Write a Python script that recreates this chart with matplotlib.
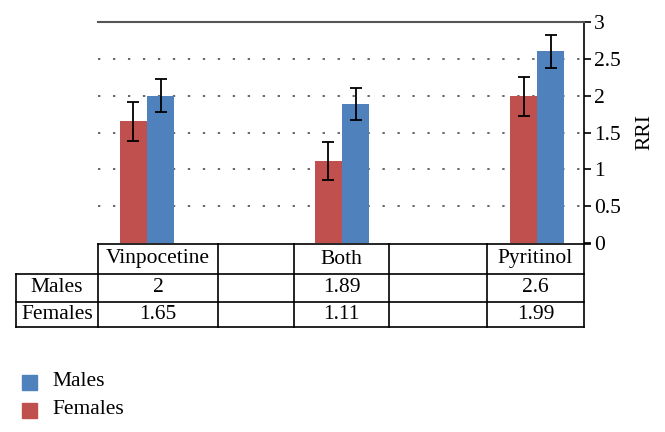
import numpy as np
import matplotlib
matplotlib.use("Agg")
import matplotlib.pyplot as plt
from matplotlib.lines import Line2D
from matplotlib.patches import Rectangle

# data
categories = ["Vinpocetine", "", "Both", "", "Pyritinol"]
males = [2, None, 1.89, None, 2.6]
females = [1.65, None, 1.11, None, 1.99]
males_err = [0.22, None, 0.22, None, 0.22]
females_err = [0.26, None, 0.26, None, 0.27]
male_labels = ["2", "", "1.89", "", "2.6"]
female_labels = ["1.65", "", "1.11", "", "1.99"]
yticks = [0, 0.5, 1, 1.5, 2, 2.5, 3]
ytick_labels = ["0", "0.5", "1", "1.5", "2", "2.5", "3"]

c_male = "#4F81BD"
c_female = "#C0504D"

plt.rcParams['font.family'] = ['Liberation Serif', 'DejaVu Serif']
fs = 15.5

W, H = 665, 432
fig = plt.figure(figsize=(W / 100, H / 100), dpi=100)

# plot area in pixels
x0, x1 = 98, 584
y_top, y_bot = 22, 243
ax = fig.add_axes([x0 / W, 1 - y_bot / H, (x1 - x0) / W, (y_bot - y_top) / H])

idx = [i for i in range(len(categories)) if males[i] is not None]
xm = np.array(idx) + 0.14
xf = np.array(idx) - 0.14
ax.bar(xf, [females[i] for i in idx], width=0.28, color=c_female, zorder=3)
ax.bar(xm, [males[i] for i in idx], width=0.28, color=c_male, zorder=3)
ax.errorbar(xf, [females[i] for i in idx], yerr=[females_err[i] for i in idx],
            fmt="none", ecolor="black", elinewidth=1.3, capsize=4, capthick=1.3, zorder=4)
ax.errorbar(xm, [males[i] for i in idx], yerr=[males_err[i] for i in idx],
            fmt="none", ecolor="black", elinewidth=1.3, capsize=4, capthick=1.3, zorder=4)

ax.set_xlim(-0.503, 4.48)
ax.set_ylim(0, 3)
ax.set_xticks([])
ax.set_yticks(yticks)
ax.set_yticklabels(ytick_labels, fontsize=fs)
ax.yaxis.tick_right()
ax.tick_params(axis="y", direction="out", length=5, width=1.2, pad=2)
# RRI axis title
ax.text((645 - x0) / (x1 - x0), 0.5, "RRI", rotation=90, ha="center", va="center",
        fontsize=fs, transform=ax.transAxes)
for y in yticks[1:-1]:
    ax.axhline(y, color="#666666", linestyle=(0, (1.2, 6.5)), linewidth=1.4, zorder=1)
ax.spines["left"].set_visible(False)
ax.spines["bottom"].set_visible(False)
ax.spines["top"].set_color("#555555")
ax.spines["top"].set_linewidth(1.5)
ax.spines["right"].set_linewidth(1.2)

# data table drawn in pixel coordinates
ov = fig.add_axes([0, 0, 1, 1])
ov.set_xlim(0, W)
ov.set_ylim(H, 0)
ov.axis("off")
col_edges = [98, 218, 294, 389, 487, 584]
row_edges = [244, 274, 302, 327]
hdr_left = 16
lw = 1.2
# horizontal lines
ov.add_line(Line2D([col_edges[0], 590], [row_edges[0]] * 2, color="black", lw=lw))
for y in row_edges[1:]:
    ov.add_line(Line2D([hdr_left, col_edges[-1]], [y, y], color="black", lw=lw))
for x in col_edges:
    ov.add_line(Line2D([x, x], [row_edges[0], row_edges[-1]], color="black", lw=lw))
ov.add_line(Line2D([hdr_left, hdr_left], [row_edges[1], row_edges[-1]], color="black", lw=lw))

rows = [categories, male_labels, female_labels]
for r, vals in enumerate(rows):
    yc = (row_edges[r] + row_edges[r + 1]) / 2
    for c, v in enumerate(vals):
        xc = (col_edges[c] + col_edges[c + 1]) / 2
        ov.text(xc, yc, v, ha="center", va="center", fontsize=fs)
ov.text((hdr_left + col_edges[0]) / 2, (row_edges[1] + row_edges[2]) / 2, "Males",
        ha="center", va="center", fontsize=fs)
ov.text((hdr_left + col_edges[0]) / 2, (row_edges[2] + row_edges[3]) / 2, "Females",
        ha="center", va="center", fontsize=fs)

# legend
ov.add_patch(Rectangle((22, 375), 15, 15, color=c_male))
ov.add_patch(Rectangle((22, 403), 15, 15, color=c_female))
ov.text(52, 382, "Males", ha="left", va="center", fontsize=fs)
ov.text(52, 410, "Females", ha="left", va="center", fontsize=fs)

fig.savefig("out.png", dpi=100)
